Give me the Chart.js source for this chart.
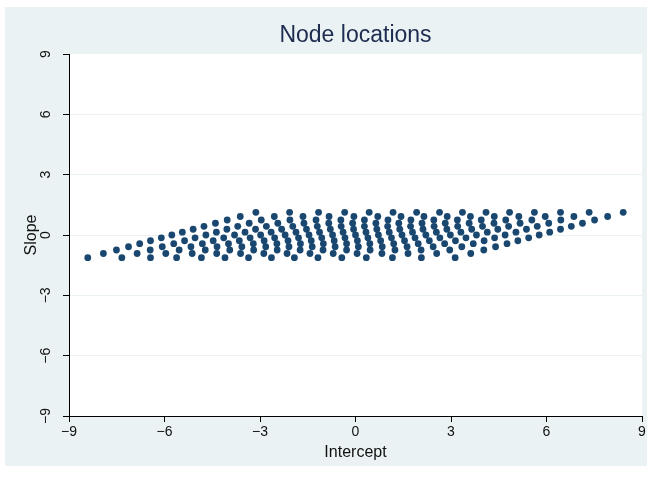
<!DOCTYPE html>
<html><head><meta charset="utf-8">
<script src="https://cdn.jsdelivr.net/npm/chart.js@4"></script>
<style>html,body{margin:0;padding:0;background:#fff}</style>
</head><body>
<canvas id="c" width="651" height="479"></canvas>
<script>
// Slope value of each row of nodes (bottom to top)
const slopeLevels = [-1.129, -0.921, -0.745, -0.584, -0.432, -0.285, -0.142, 0, 0.142, 0.285, 0.432, 0.584, 0.745, 0.921, 1.129];
// Intercept values of the nodes in each row
const rowM7 = [-8.41, -7.34, -6.44, -5.62, -4.84, -4.10, -3.36, -2.64, -1.92, -1.18, -0.43, 0.34, 1.16, 2.07, 3.13];
const rowM6 = [-7.92, -6.86, -5.96, -5.13, -4.36, -3.61, -2.88, -2.15, -1.43, -0.70, 0.05, 0.83, 1.65, 2.55, 3.62];
const rowM5 = [-7.51, -6.45, -5.54, -4.72, -3.95, -3.20, -2.46, -1.74, -1.02, -0.28, 0.46, 1.24, 2.06, 2.96, 4.03];
const rowM4 = [-7.13, -6.07, -5.17, -4.35, -3.57, -2.82, -2.09, -1.36, -0.64, 0.09, 0.84, 1.62, 2.44, 3.34, 4.40];
const rowM3 = [-6.78, -5.71, -4.81, -3.99, -3.21, -2.47, -1.73, -1.01, -0.28, 0.45, 1.20, 1.97, 2.80, 3.70, 4.76];
const rowM2 = [-6.44, -5.37, -4.47, -3.65, -2.87, -2.12, -1.39, -0.67, 0.06, 0.79, 1.54, 2.32, 3.14, 4.04, 5.10];
const rowM1 = [-6.10, -5.04, -4.14, -3.31, -2.54, -1.79, -1.06, -0.33, 0.39, 1.13, 1.87, 2.65, 3.47, 4.37, 5.44];
const row0  = [-5.77, -4.70, -3.80, -2.98, -2.21, -1.46, -0.72, 0.00, 0.72, 1.46, 2.21, 2.98, 3.80, 4.70, 5.77];
const rowP1 = [-5.44, -4.37, -3.47, -2.65, -1.87, -1.13, -0.39, 0.33, 1.06, 1.79, 2.54, 3.31, 4.14, 5.04, 6.10];
const rowP2 = [-5.10, -4.04, -3.14, -2.32, -1.54, -0.79, -0.06, 0.67, 1.39, 2.12, 2.87, 3.65, 4.47, 5.37, 6.44];
const rowP3 = [-4.76, -3.70, -2.80, -1.97, -1.20, -0.45, 0.28, 1.01, 1.73, 2.47, 3.21, 3.99, 4.81, 5.71, 6.78];
const rowP4 = [-4.40, -3.34, -2.44, -1.62, -0.84, -0.09, 0.64, 1.36, 2.09, 2.82, 3.57, 4.35, 5.17, 6.07, 7.13];
const rowP5 = [-4.03, -2.96, -2.06, -1.24, -0.46, 0.28, 1.02, 1.74, 2.46, 3.20, 3.95, 4.72, 5.54, 6.45, 7.51];
const rowP6 = [-3.62, -2.55, -1.65, -0.83, -0.05, 0.70, 1.43, 2.15, 2.88, 3.61, 4.36, 5.13, 5.96, 6.86, 7.92];
const rowP7 = [-3.13, -2.07, -1.16, -0.34, 0.43, 1.18, 1.92, 2.64, 3.36, 4.10, 4.84, 5.62, 6.44, 7.34, 8.41];
const rows = [rowM7, rowM6, rowM5, rowM4, rowM3, rowM2, rowM1, row0, rowP1, rowP2, rowP3, rowP4, rowP5, rowP6, rowP7];
const tickValues = [-9, -6, -3, 0, 3, 6, 9];

const points = [];
rows.forEach((r, i) => r.forEach(x => points.push({x: x, y: slopeLevels[i]})));

const fmt = v => (v < 0 ? '\u2212' + Math.abs(v) : String(v));
const FONT = "'Liberation Sans', Arial, Helvetica, sans-serif";
const LIGHT = '#EAF2F3';

const bgPlugin = {
  id: 'bg',
  afterLayout(chart) {
    // centre the title over the plot region
    const t = chart.titleBlock, a = chart.chartArea;
    if (t) { t.left = a.left; t.right = a.right; t.width = a.right - a.left; }
  },
  beforeDraw(chart) {
    const ctx = chart.ctx, a = chart.chartArea;
    ctx.save();
    ctx.fillStyle = '#ffffff';
    ctx.fillRect(0, 0, chart.width, chart.height);
    ctx.fillStyle = LIGHT;
    ctx.fillRect(5, 7, 642, 459);
    ctx.fillStyle = '#ffffff';
    ctx.fillRect(a.left, a.top, a.right - a.left, a.bottom - a.top);
    ctx.restore();
  }
};

new Chart(document.getElementById('c'), {
  type: 'scatter',
  data: {
    datasets: [{
      data: points,
      backgroundColor: '#1A476F',
      borderColor: '#1A476F',
      borderWidth: 0,
      pointRadius: 3.4,
      pointHoverRadius: 3.4
    }]
  },
  options: {
    responsive: false,
    animation: false,
    events: [],
    layout: {padding: {left: 0, right: 9, top: 0, bottom: 0}},
    plugins: {
      legend: {display: false},
      tooltip: {enabled: false},
      title: {
        display: true,
        text: 'Node locations',
        color: '#1C2B4F',
        font: {family: FONT, size: 23, weight: 'normal', lineHeight: 1.2},
        padding: {top: 22.2, bottom: 4.2}
      }
    },
    scales: {
      x: {
        type: 'linear',
        min: -9, max: 9,
        afterBuildTicks: s => { s.ticks = tickValues.map(v => ({value: v})); },
        afterFit: s => { s.height = 63; },
        ticks: {
          callback: v => fmt(v),
          color: '#111',
          font: {family: FONT, size: 14},
          padding: 2,
          maxRotation: 0, minRotation: 0
        },
        grid: {drawOnChartArea: false, drawTicks: true, tickLength: 6, tickColor: '#000'},
        border: {display: true, color: '#000', width: 1},
        title: {
          display: true, text: 'Intercept', color: '#111',
          font: {family: FONT, size: 16, lineHeight: 1.2},
          padding: {top: 0, bottom: 16.5}
        }
      },
      y: {
        type: 'linear',
        min: -9, max: 9,
        afterBuildTicks: s => { s.ticks = tickValues.map(v => ({value: v})); },
        afterFit: s => { s.width = 69; },
        ticks: {
          callback: v => fmt(v),
          color: '#111',
          font: {family: FONT, size: 14},
          padding: 9,
          minRotation: 90, maxRotation: 90,
          crossAlign: 'center'
        },
        grid: {
          drawOnChartArea: true, drawTicks: true, tickLength: 6, tickColor: '#000',
          color: c => (c.tick && Math.abs(c.tick.value) === 9 ? 'rgba(0,0,0,0)' : LIGHT),
          lineWidth: 1
        },
        border: {display: true, color: '#000', width: 1},
        title: {
          display: true, text: 'Slope', color: '#111',
          font: {family: FONT, size: 16, lineHeight: 1.2},
          padding: {top: 22.4, bottom: 0}
        }
      }
    }
  },
  plugins: [bgPlugin]
});
</script>
</body></html>
